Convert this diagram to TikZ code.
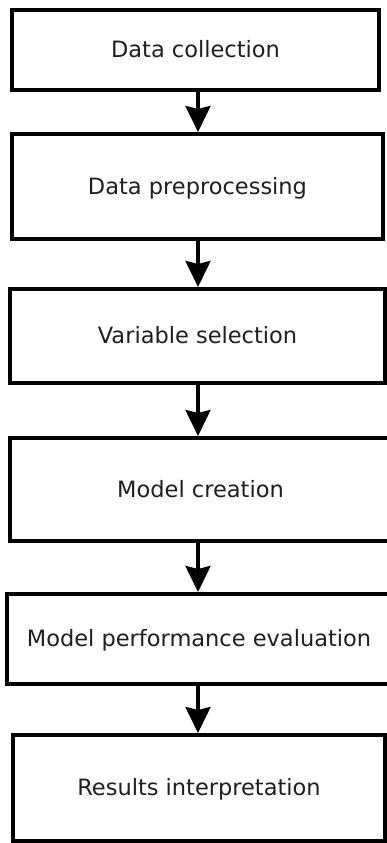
\documentclass[tikz,border=0pt]{standalone}
\usepackage{fontspec}
\setmainfont{DejaVu Sans}
\usetikzlibrary{arrows.meta}
\begin{document}
\begin{tikzpicture}[x=1pt,y=1pt,
  stepbox/.style={draw=black, line width=4pt, fill=white, rectangle,
    inner sep=0pt, text=black!88, font=\fontsize{22.5}{26}\selectfont,
    text height=16pt, text depth=0pt},
  arr/.style={draw=black, line width=3.5pt,
    -{Stealth[length=26pt,width=25pt,inset=3pt]}}]
\useasboundingbox (0,0) rectangle (386,843);
\fill[white] (0,0) rectangle (386,843);
\node[stepbox, minimum width=367pt, minimum height=80pt]  (b1) at (195.5,793) {Data collection};
\node[stepbox, minimum width=371pt, minimum height=105pt] (b2) at (197.5,656.5) {Data preprocessing};
\node[stepbox, minimum width=375pt, minimum height=94pt]  (b3) at (197.5,507) {Variable selection};
\node[stepbox, minimum width=381pt, minimum height=103pt] (b4) at (200.5,353.5) {Model creation};
\node[stepbox, minimum width=384pt, minimum height=90pt]  (b5) at (199,204) {Model performance evaluation};
\node[stepbox, minimum width=372pt, minimum height=106pt] (b6) at (199,55) {Results interpretation};
\coordinate (ax) at (198,0);
\draw[arr] (b1.south -| ax) -- (b2.north -| ax);
\draw[arr] (b2.south -| ax) -- (b3.north -| ax);
\draw[arr] (b3.south -| ax) -- (b4.north -| ax);
\draw[arr] (b4.south -| ax) -- (b5.north -| ax);
\draw[arr] (b5.south -| ax) -- (b6.north -| ax);
\end{tikzpicture}
\end{document}
